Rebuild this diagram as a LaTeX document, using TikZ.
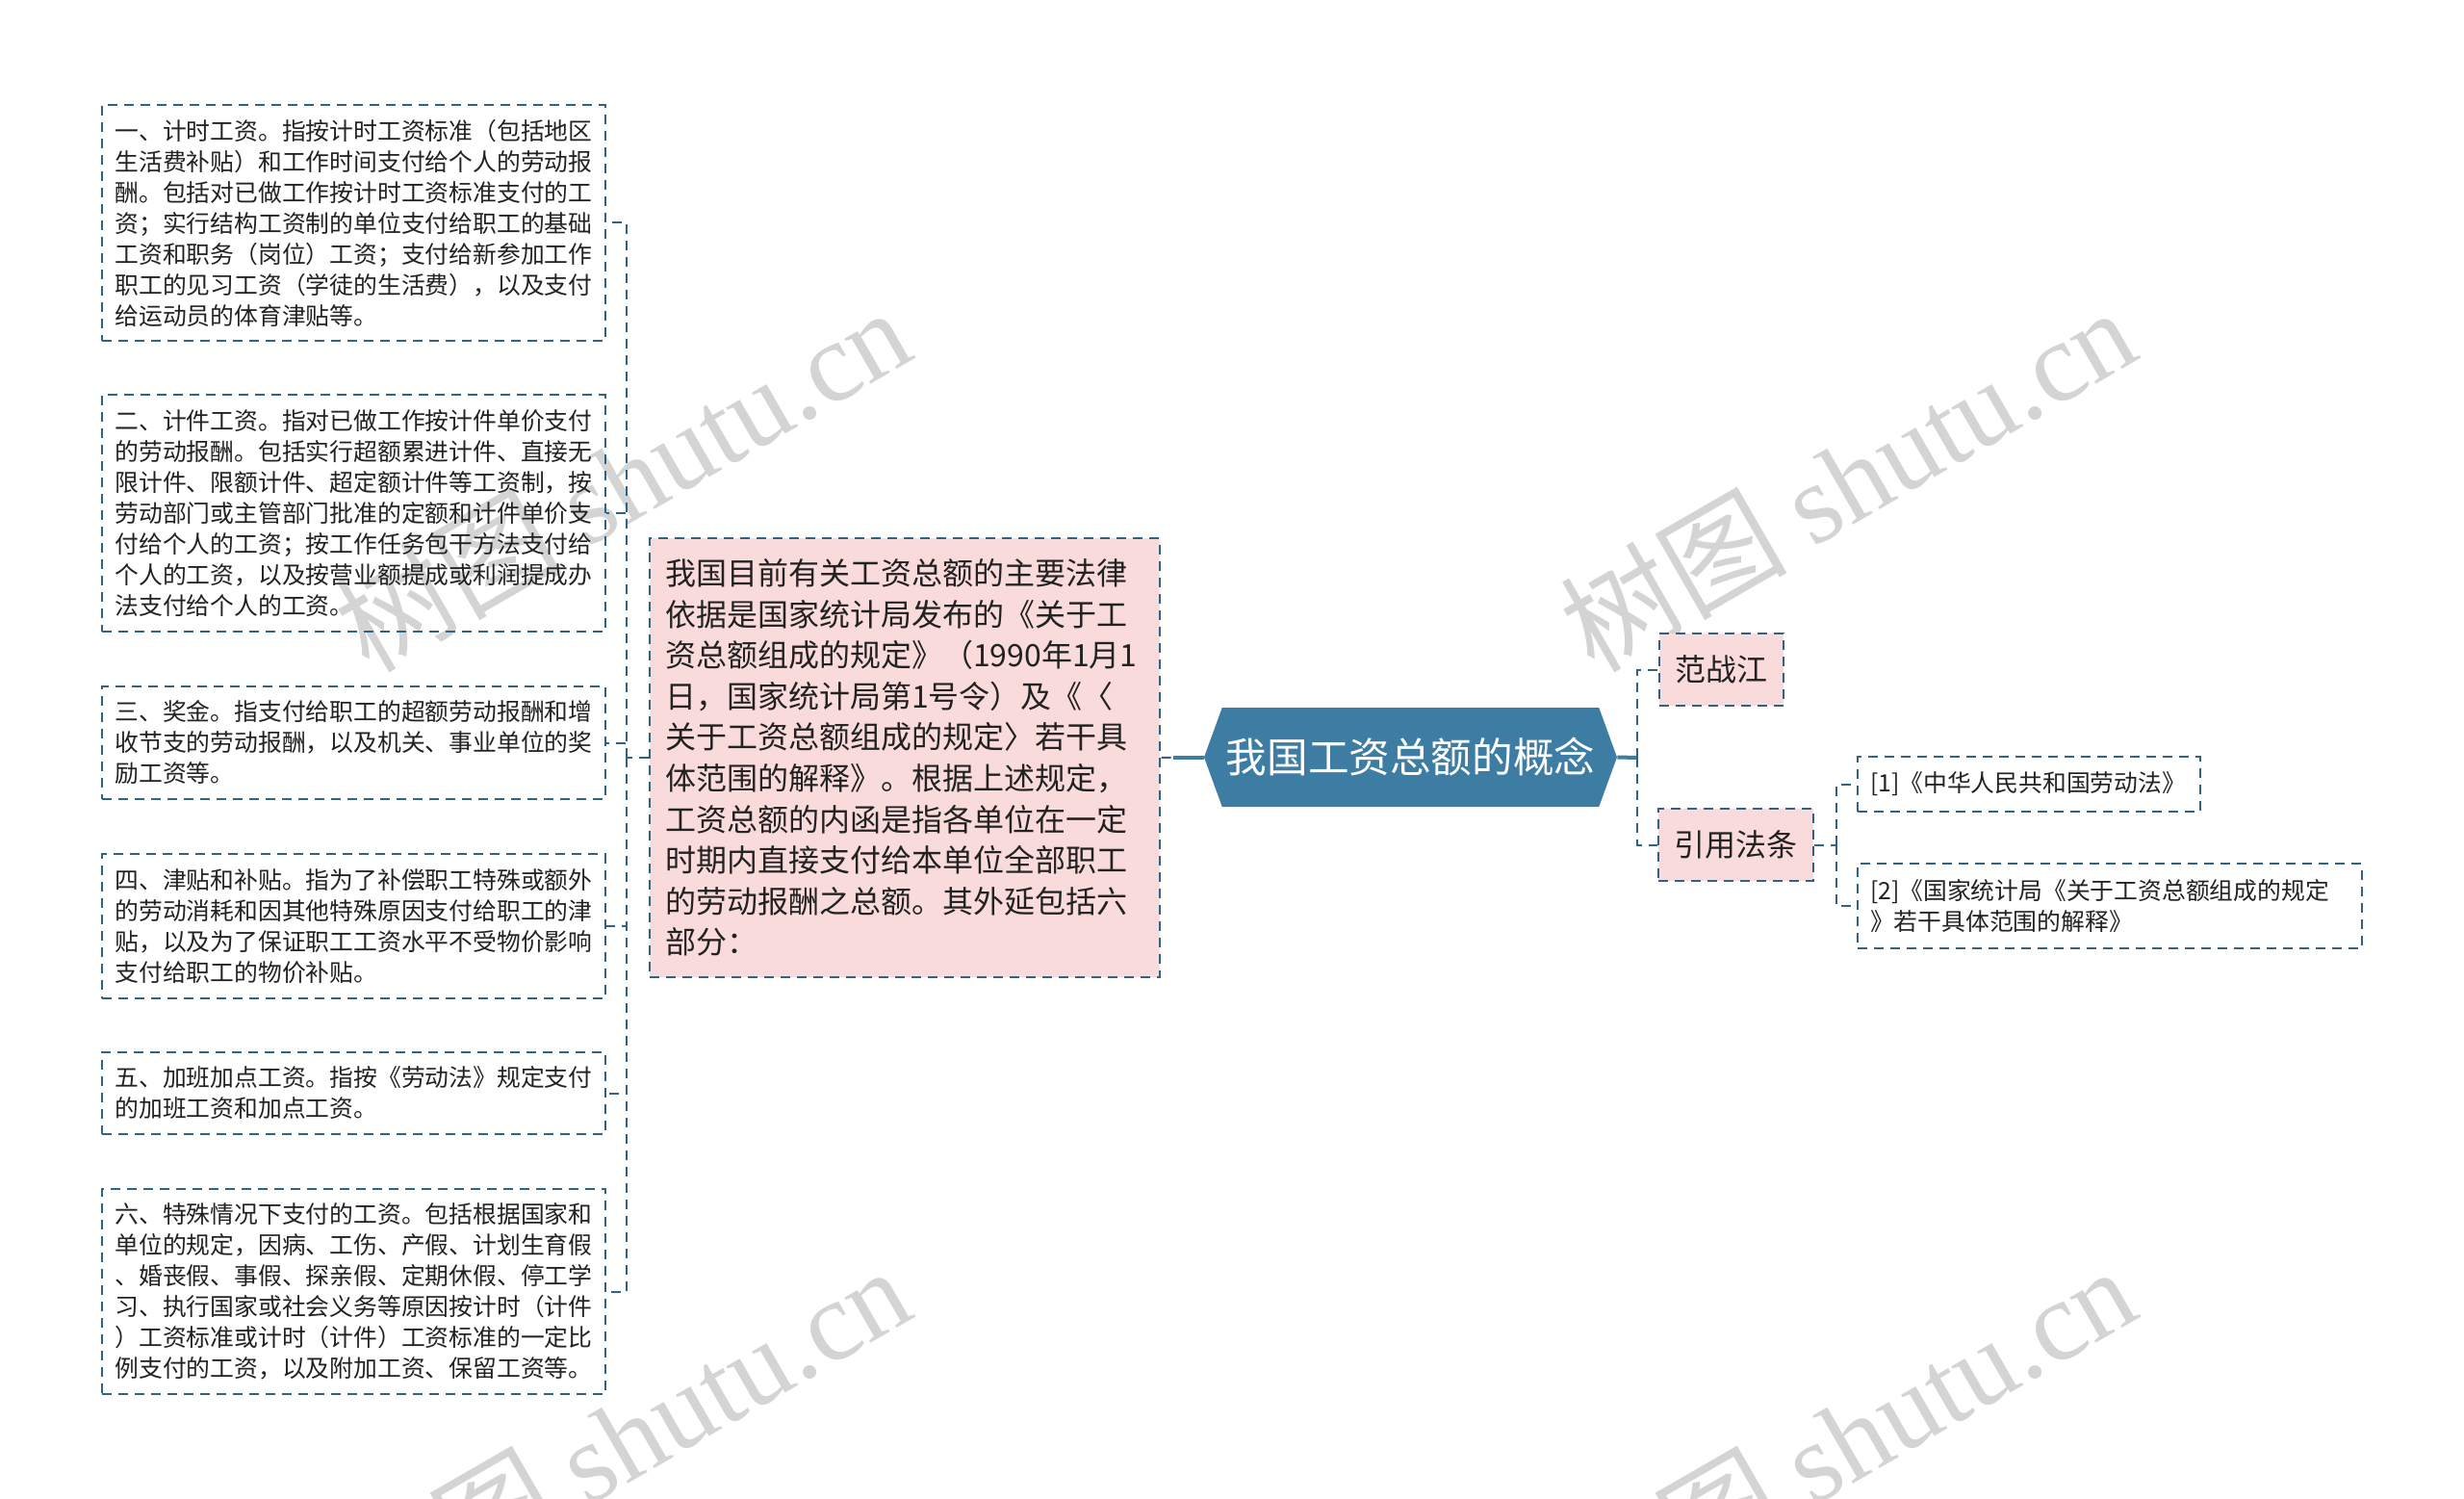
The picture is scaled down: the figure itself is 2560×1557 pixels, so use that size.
\documentclass[tikz,border=0pt]{standalone}
\usepackage{fontspec}
\setmainfont{Noto Sans CJK SC}
\newfontfamily\MarkLatin{Liberation Serif}
\usepackage{xcolor}
\definecolor{Col1}{RGB}{34,34,34}
\definecolor{Col2}{RGB}{46,98,134}
\definecolor{Col3}{RGB}{62,125,163}
\definecolor{Col4}{RGB}{250,219,219}
\definecolor{Col5}{RGB}{212,212,212}
\usepackage{tikz}
\usetikzlibrary{shapes.symbols}
\tikzstyle{Dash}=[draw=Col2,line width=1pt,dash pattern=on 5pt off 3.5pt]
\tikzstyle{Leaf}=[Dash,text=Col1,text width=248pt,align=left,
inner xsep=6.75pt,inner ysep=7.5pt,font=\fontsize{12.4}{16}\selectfont]
\tikzstyle{Main}=[Dash,fill=Col4,text=Col1,text width=249pt,align=left,
inner xsep=8pt,inner ysep=10.5pt,font=\fontsize{16}{21.3}\selectfont]
\tikzstyle{Root}=[signal,signal to=east and west,signal pointer angle=140,
fill=Col3,text=white,minimum width=214.5pt,minimum height=51.5pt,
inner sep=0pt,font=\fontsize{21.3}{25}\selectfont]
\tikzstyle{Branch}=[Dash,fill=Col4,text=Col1,inner xsep=8.25pt,
inner ysep=0pt,minimum height=37.5pt,font=\fontsize{16}{20}\selectfont]
\tikzstyle{Ref}=[Dash,text=Col1,align=left,inner xsep=6.5pt,
inner ysep=8pt,font=\fontsize{12.4}{16}\selectfont]
\tikzstyle{Edge}=[Dash]
\tikzstyle{Stub}=[draw=Col3,line width=2pt]
\tikzstyle{Mark}=[text=Col5,rotate=30,inner sep=0pt,
font=\fontsize{59}{59}\selectfont]

\begin{document}
\begin{tikzpicture}[x=0.5pt,y=-0.5pt]
            \useasboundingbox(0,0)rectangle(2560,1557);
            \node[Mark](w1)at(646,497){树图 {\MarkLatin shutu.cn}};
            \node[Mark](w2)at(1919,497){树图 {\MarkLatin shutu.cn}};
            \node[Mark](w3)at(646,1493){树图 {\MarkLatin shutu.cn}};
            \node[Mark](w4)at(1919,1493){树图 {\MarkLatin shutu.cn}};
            %
            \node[Leaf](b1)at(367.5,231.5)
                {一、计时工资。指按计时工资标准（包括地区\\
                生活费补贴）和工作时间支付给个人的劳动报\\
                酬。包括对已做工作按计时工资标准支付的工\\
                资；实行结构工资制的单位支付给职工的基础\\
                工资和职务（岗位）工资；支付给新参加工作\\
                职工的见习工资（学徒的生活费），以及支付\\
                给运动员的体育津贴等。};
            \node[Leaf](b2)at(367.5,533)
                {二、计件工资。指对已做工作按计件单价支付\\
                的劳动报酬。包括实行超额累进计件、直接无\\
                限计件、限额计件、超定额计件等工资制，按\\
                劳动部门或主管部门批准的定额和计件单价支\\
                付给个人的工资；按工作任务包干方法支付给\\
                个人的工资，以及按营业额提成或利润提成办\\
                法支付给个人的工资。};
            \node[Leaf](b3)at(367.5,771.5)
                {三、奖金。指支付给职工的超额劳动报酬和增\\
                收节支的劳动报酬，以及机关、事业单位的奖\\
                励工资等。};
            \node[Leaf](b4)at(367.5,962)
                {四、津贴和补贴。指为了补偿职工特殊或额外\\
                的劳动消耗和因其他特殊原因支付给职工的津\\
                贴，以及为了保证职工工资水平不受物价影响\\
                支付给职工的物价补贴。};
            \node[Leaf](b5)at(367.5,1135.5)
                {五、加班加点工资。指按《劳动法》规定支付\\
                的加班工资和加点工资。};
            \node[Leaf](b6)at(367.5,1341.5)
                {六、特殊情况下支付的工资。包括根据国家和\\
                单位的规定，因病、工伤、产假、计划生育假\\
                、婚丧假、事假、探亲假、定期休假、停工学\\
                习、执行国家或社会义务等原因按计时（计件\\
                ）工资标准或计时（计件）工资标准的一定比\\
                例支付的工资，以及附加工资、保留工资等。};
            \node[Main](main)at(940,787)
                {我国目前有关工资总额的主要法律\\
                依据是国家统计局发布的《关于工\\
                资总额组成的规定》（1990年1月1\\
                日，国家统计局第1号令）及《〈\\
                关于工资总额组成的规定〉若干具\\
                体范围的解释》。根据上述规定，\\
                工资总额的内函是指各单位在一定\\
                时期内直接支付给本单位全部职工\\
                的劳动报酬之总额。其外延包括六\\
                部分：};
            \node[Root](root)at(1465.5,786.5){我国工资总额的概念};
            \node[Branch](fan)at(1788,695.5){范战江};
            \node[Branch](cite)at(1803.5,877.5){引用法条};
            \node[Ref,text width=165pt](r1)at(2108,814.5)
                {[1]《中华人民共和国劳动法》};
            \node[Ref,text width=249pt](r2)at(2192,941)
                {[2]《国家统计局《关于工资总额组成的规定\\
                》若干具体范围的解释》};
            %
            \coordinate(jl)at(651,787);
            \coordinate(jr)at(1701,787);
            \coordinate(jc)at(1908,877.5);
            \draw[Edge](root.west)--(main.east);
            \draw[Stub](root.west)--++(-32,0);
            \draw[Edge](main.west)--(jl);
            \draw[Edge](jl)|-(b1.east);
            \draw[Edge](jl)|-(b2.east);
            \draw[Edge](jl)|-(b3.east);
            \draw[Edge](jl)|-(b4.east);
            \draw[Edge](jl)|-(b5.east);
            \draw[Edge](jl)|-(b6.east);
            \draw[Stub](root.east)--(jr);
            \draw[Edge](jr)|-(fan.west);
            \draw[Edge](jr)|-(cite.west);
            \draw[Edge](cite.east)--(jc);
            \draw[Edge](jc)|-(r1.west);
            \draw[Edge](jc)|-(r2.west);
\end{tikzpicture}
\end{document}
